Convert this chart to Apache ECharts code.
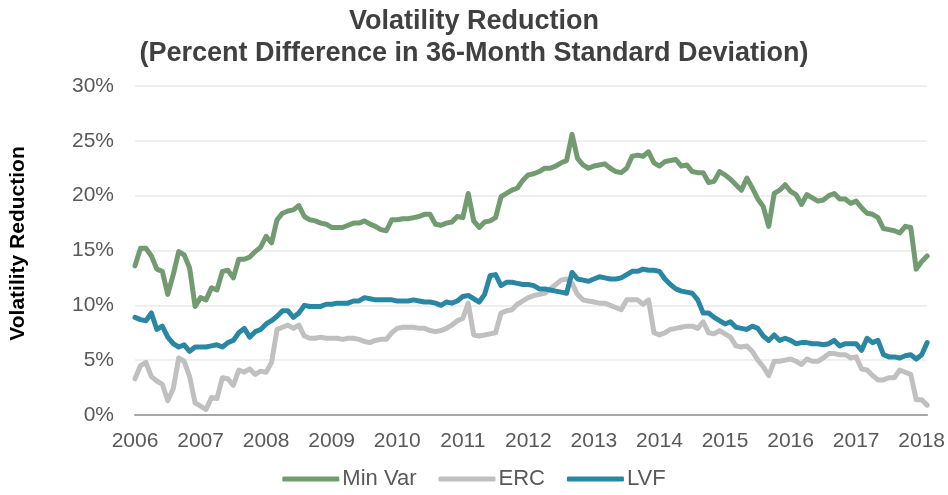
<!DOCTYPE html>
<html>
<head>
<meta charset="utf-8">
<script src="https://cdn.jsdelivr.net/npm/echarts@6/dist/echarts.min.js"></script>
<style>
html,body{margin:0;padding:0;background:#fff;}
#main{width:948px;height:495px;}
</style>
</head>
<body>
<div id="main"></div>
<script>
// monthly observations, Jan 2006 .. Feb 2018
var years = ['2006','2007','2008','2009','2010','2011','2012','2013','2014','2015','2016','2017','2018'];
var monthCount = 146;

var minVar = [
  13.6,15.2,15.2,14.5,13.3,13.1,11.0,12.8,14.9,14.6,13.4,9.9,
  10.7,10.5,11.6,11.4,13.1,13.2,12.5,14.2,14.2,14.4,14.9,15.3,
  16.3,15.7,17.8,18.4,18.6,18.7,19.1,18.1,17.8,17.7,17.5,17.4,
  17.1,17.1,17.1,17.3,17.5,17.5,17.7,17.4,17.2,16.9,16.8,17.8,
  17.8,17.9,17.9,18.0,18.1,18.3,18.3,17.4,17.3,17.5,17.6,18.1,
  18.0,20.2,17.7,17.1,17.6,17.7,18.0,19.9,20.2,20.5,20.7,21.4,
  21.9,22.0,22.2,22.5,22.5,22.7,23.0,23.2,25.6,23.4,22.8,22.5,
  22.7,22.8,22.9,22.5,22.2,22.1,22.5,23.6,23.7,23.6,24.0,23.0,
  22.7,23.1,23.2,23.3,22.7,22.8,22.2,22.1,22.1,21.2,21.3,22.2,
  21.9,21.5,21.0,20.5,21.6,20.7,19.7,19.0,17.2,20.2,20.5,21.0,
  20.4,20.1,19.2,20.1,19.8,19.5,19.6,20.0,20.2,19.7,19.7,19.3,
  19.5,18.9,18.4,18.3,18.0,17.0,16.9,16.8,16.6,17.2,17.1,13.3,
  14.0,14.5
];

var erc = [
  3.3,4.5,4.8,3.5,3.1,2.8,1.3,2.4,5.2,4.9,3.5,1.1,
  0.8,0.5,1.6,1.5,3.4,3.3,2.7,4.1,3.9,4.2,3.7,4.0,
  3.9,4.8,7.8,8.0,8.2,7.9,8.2,7.2,7.0,7.0,7.1,7.0,
  7.0,7.0,6.9,7.0,7.0,6.9,6.7,6.6,6.8,6.9,6.9,7.5,
  7.9,8.0,8.0,8.0,7.9,7.9,7.7,7.6,7.7,7.9,8.2,8.6,
  8.8,10.2,7.3,7.2,7.3,7.4,7.5,9.3,9.5,9.6,10.1,10.4,
  10.7,10.9,11.0,11.1,11.5,11.9,12.3,12.4,12.0,11.0,10.5,10.4,
  10.3,10.2,10.2,10.0,9.8,9.6,10.5,10.5,10.5,10.1,10.5,7.5,
  7.3,7.5,7.8,7.9,8.0,8.1,8.1,7.9,8.5,7.5,7.4,7.7,
  7.4,7.1,6.3,6.2,6.3,5.8,5.0,4.4,3.6,4.9,4.9,5.0,
  5.1,4.9,4.6,5.1,4.9,4.9,5.2,5.6,5.6,5.5,5.5,5.2,
  5.3,4.2,4.1,3.6,3.2,3.2,3.4,3.4,4.1,3.9,3.7,1.4,
  1.4,0.9
];

var lvf = [
  8.9,8.7,8.6,9.3,7.8,8.1,7.1,6.5,6.2,6.4,5.8,6.2,
  6.2,6.2,6.3,6.4,6.2,6.6,6.8,7.5,7.9,7.1,7.6,7.8,
  8.3,8.6,9.0,9.5,9.5,8.9,9.3,10.0,9.9,9.9,9.9,10.1,
  10.1,10.2,10.2,10.2,10.4,10.4,10.7,10.6,10.5,10.5,10.5,10.5,
  10.4,10.4,10.4,10.5,10.4,10.3,10.3,10.2,10.0,10.3,10.2,10.4,
  10.8,10.9,10.6,10.3,11.0,12.7,12.8,11.8,12.1,12.1,12.0,11.9,
  11.9,11.8,11.5,11.5,11.4,11.3,11.2,11.1,13.0,12.4,12.3,12.2,
  12.4,12.6,12.5,12.4,12.4,12.5,12.8,13.1,13.1,13.3,13.2,13.2,
  13.1,12.4,11.9,11.5,11.3,11.2,11.1,10.5,9.3,9.3,8.9,8.6,
  8.3,8.5,8.0,7.9,7.8,8.1,7.9,7.2,6.8,7.3,6.8,7.0,
  6.8,6.5,6.6,6.6,6.5,6.5,6.4,6.5,6.8,6.3,6.5,6.5,
  6.5,5.9,7.0,6.6,6.8,5.5,5.3,5.3,5.2,5.4,5.5,5.1,
  5.5,6.6
];

var months = [];
for (var i = 0; i < monthCount; i++) {
    var y = years[Math.floor(i / 12)];
    var m = (i % 12) + 1;
    months.push(y + '-' + (m < 10 ? '0' + m : m));
}

var txt = '#595959';
var chartDom = document.getElementById('main');
var myChart = echarts.init(chartDom);
var option;

option = {
    animation: false,
    title: {
        text: 'Volatility Reduction\n(Percent Difference in 36-Month Standard Deviation)',
        left: 'center',
        top: 1,
        textStyle: {
            fontFamily: 'Liberation Sans',
            fontSize: 27,
            fontWeight: 'bold',
            color: '#404040',
            lineHeight: 32
        }
    },
    legend: {
        bottom: 0,
        left: 'center',
        icon: 'roundRect',
        itemWidth: 57,
        itemHeight: 5,
        itemGap: 22,
        textStyle: {fontFamily: 'Liberation Sans', fontSize: 22, color: txt, padding: [0, 0, 0, -2]},
        data: ['Min Var', 'ERC', 'LVF']
    },
    grid: {
        left: 128,
        right: 18,
        top: 86,
        bottom: 80,
        containLabel: false
    },
    xAxis: {
        type: 'category',
        boundaryGap: false,
        data: months,
        axisLine: {lineStyle: {color: '#a6a6a6', width: 2}},
        axisTick: {show: false},
        axisLabel: {
            interval: function (idx) { return idx % 12 === 0; },
            formatter: function (v) { return v.slice(0, 4); },
            fontFamily: 'Liberation Sans',
            fontSize: 21,
            color: txt,
            margin: 16
        },
        splitLine: {show: false}
    },
    yAxis: {
        type: 'value',
        min: 0,
        max: 30,
        interval: 5,
        name: 'Volatility Reduction',
        nameLocation: 'middle',
        nameGap: 106,
        nameTextStyle: {fontFamily: 'Liberation Sans', fontSize: 21, fontWeight: 'bold', color: '#000', padding: [0, 0, 0, 14]},
        axisLine: {show: false},
        axisTick: {show: false},
        axisLabel: {
            formatter: '{value}%',
            fontFamily: 'Liberation Sans',
            fontSize: 21,
            color: txt,
            margin: 21
        },
        splitLine: {lineStyle: {color: '#efefef', width: 2}}
    },
    series: [
        {
            name: 'Min Var',
            type: 'line',
            data: minVar,
            showSymbol: false,
            color: '#739b72',
            lineStyle: {width: 5, cap: 'round', join: 'round'}
        },
        {
            name: 'ERC',
            type: 'line',
            data: erc,
            showSymbol: false,
            color: '#c0c0c0',
            lineStyle: {width: 5, cap: 'round', join: 'round'}
        },
        {
            name: 'LVF',
            type: 'line',
            data: lvf,
            showSymbol: false,
            color: '#2a87a4',
            lineStyle: {width: 5, cap: 'round', join: 'round'}
        }
    ]
};

option && myChart.setOption(option);
</script>
</body>
</html>
